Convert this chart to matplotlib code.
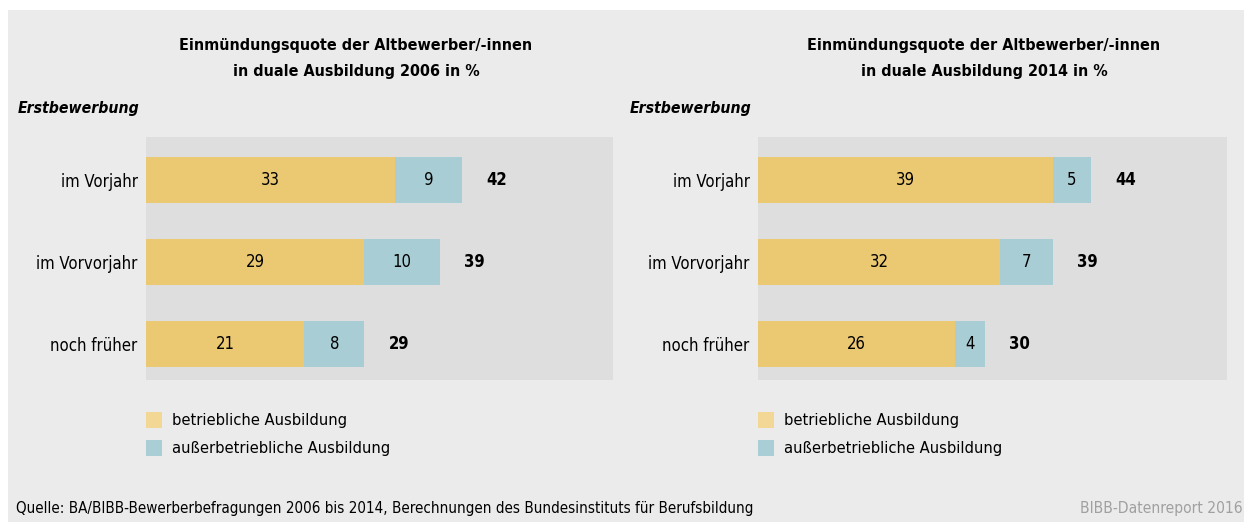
import matplotlib.pyplot as plt
from matplotlib.patches import Rectangle

# ======= DATEN =======
kategorien = ['im Vorjahr', 'im Vorvorjahr', 'noch früher']
betrieblich_2006 = [33, 29, 21]
ausserbetr_2006 = [9, 10, 8]
betrieblich_2014 = [39, 32, 26]
ausserbetr_2014 = [5, 7, 4]
jahre = [2006, 2014]

# ======= STIL =======
plt.rcParams['font.family'] = ['DejaVu Sans']
plt.rcParams['font.stretch'] = 'condensed'
GELB = '#EBC872'
BLAU = '#A8CDD4'
GELB_LEG = '#F2D795'
BLAU_LEG = '#A9CED5'
PANEL = '#EBEBEB'
ACHSE = '#DEDEDE'
FS = 12

W, H = 1244, 522
fig = plt.figure(figsize=(W / 100, H / 100), dpi=100, facecolor='white')

# grauer Hintergrund
fig.patches.append(Rectangle((8 / W, 0), 1 - 8 / W, (H - 10) / H,
                             transform=fig.transFigure, facecolor=PANEL,
                             edgecolor='none', zorder=-5))


def px(x, y):
    """Pixel (von oben links) -> Figurenkoordinaten"""
    return x / W, 1 - y / H


def panel(links_px, rechts_px, titel_x, jahr, betr, ausser):
    l, _ = px(links_px, 0)
    ax = fig.add_axes([l, (H - 380) / H, (rechts_px - links_px) / W, 243 / H])
    ax.set_facecolor(ACHSE)
    y = range(len(kategorien))
    ax.barh(y, betr, height=0.56, color=GELB, linewidth=0)
    ax.barh(y, ausser, left=betr, height=0.56, color=BLAU, linewidth=0)
    for i, (a, b) in enumerate(zip(betr, ausser)):
        ax.text(a / 2, i, str(a), ha='center', va='center', fontsize=FS)
        ax.text(a + b / 2, i, str(b), ha='center', va='center', fontsize=FS)
        ax.text(a + b + 4.6, i, str(a + b), ha='center', va='center',
                fontsize=FS, fontweight='bold')
    ax.set_xlim(0, 62)
    ax.set_ylim(2.44, -0.52)
    ax.set_xticks([])
    ax.set_yticks(list(y))
    ax.set_yticklabels(kategorien, fontsize=FS)
    ax.tick_params(axis='y', length=0, pad=6)
    for s in ax.spines.values():
        s.set_visible(False)

    tx, ty = px(titel_x, 58.5)
    fig.text(tx, ty, 'Einmündungsquote der Altbewerber/-innen\n'
             f'in duale Ausbildung {jahr} in %', ha='center', va='center',
             fontsize=11.5, fontweight='bold', linespacing=1.85)
    ex, ey = px(links_px - 128, 108)
    fig.text(ex, ey, 'Erstbewerbung', ha='left', va='center', fontsize=11.3,
             fontweight='bold', fontstyle='italic')

    # Legende
    for k, (farbe, text) in enumerate([(GELB_LEG, 'betriebliche Ausbildung'),
                                       (BLAU_LEG, 'außerbetriebliche Ausbildung')]):
        yy = 420 + k * 28
        fig.patches.append(Rectangle(px(links_px, yy + 8), 16 / W, 16 / H,
                                     transform=fig.transFigure, facecolor=farbe,
                                     edgecolor='none'))
        lx, ly = px(links_px + 26, yy)
        fig.text(lx, ly, text, ha='left', va='center', fontsize=11.8)
    return ax


panel(146, 613, 356, jahre[0], betrieblich_2006, ausserbetr_2006)
panel(758, 1227, 984, jahre[1], betrieblich_2014, ausserbetr_2014)

qx, qy = px(16, 509)
fig.text(qx, qy, 'Quelle: BA/BIBB-Bewerberbefragungen 2006 bis 2014, '
         'Berechnungen des Bundesinstituts für Berufsbildung',
         ha='left', va='center', fontsize=10.9)
bx, by = px(1243, 509)
fig.text(bx, by, 'BIBB-Datenreport 2016', ha='right', va='center',
         fontsize=11.2, color='#A0A0A0')

fig.savefig('out.png', dpi=100, facecolor=fig.get_facecolor())
